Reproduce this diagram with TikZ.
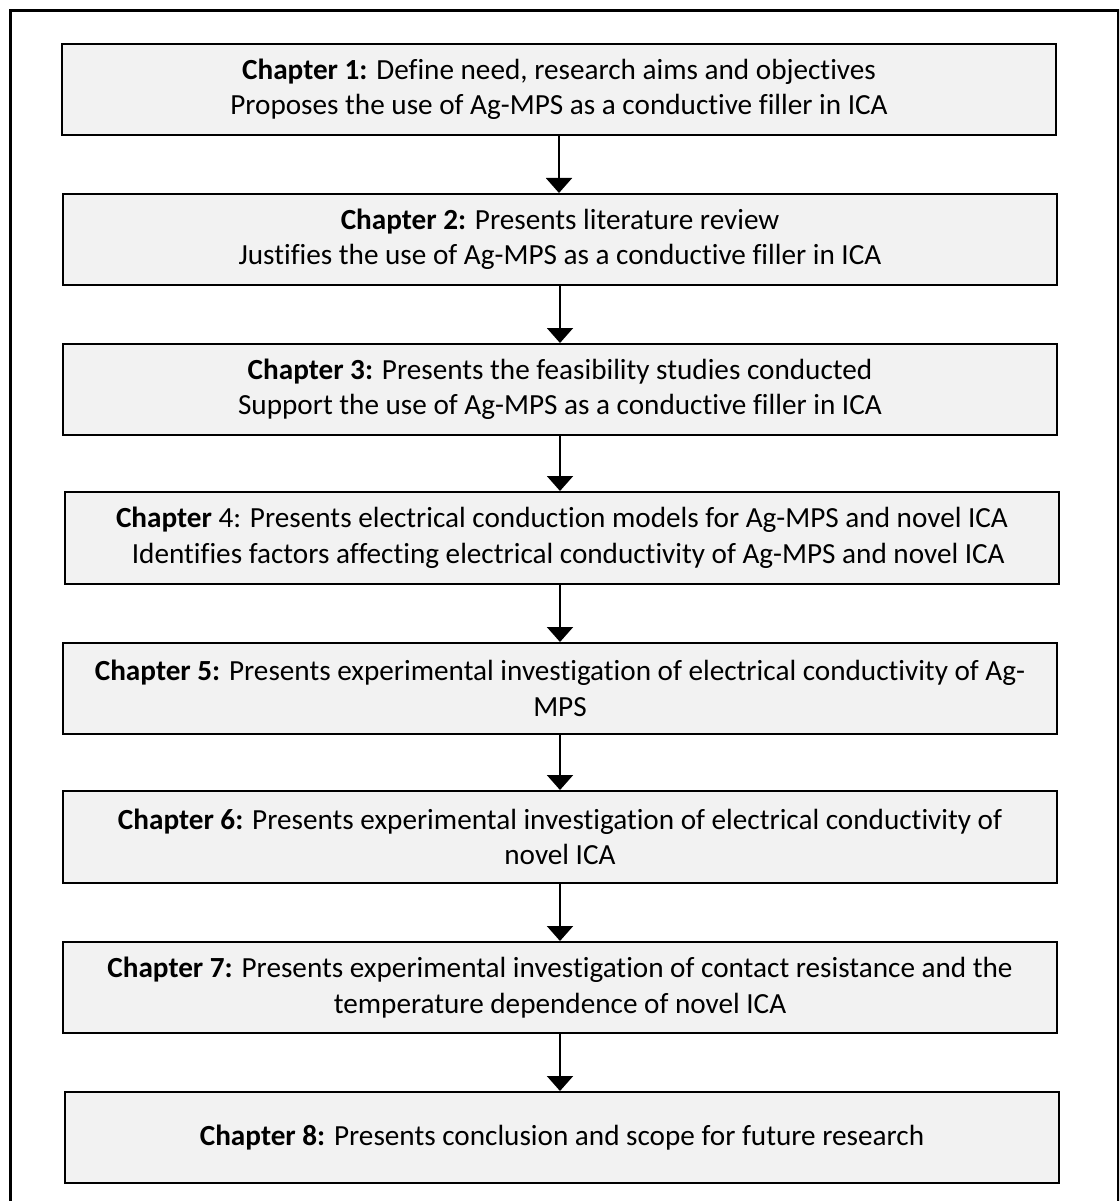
\documentclass[tikz,border=0pt]{standalone}
\usepackage{fontspec}
\setmainfont{Carlito}[Ligatures=NoCommon]
\usetikzlibrary{arrows.meta}
\definecolor{boxfill}{HTML}{F2F2F2}
\tikzset{
  chapbox/.style={draw=black, line width=2pt, fill=boxfill, minimum width=994pt, minimum height=91pt,
    inner sep=0pt, align=center, font=\fontsize{29.2}{35.5}\selectfont},
  flowarrow/.style={line width=2pt, -{Triangle[width=26pt,length=15pt]}}
}
\begin{document}
\begin{tikzpicture}[x=1pt,y=-1pt]
\clip (0,0) rectangle (1119,1201);
\fill[white] (0,0) rectangle (1119,1201);
\draw[line width=3pt] (10,11) rectangle (1118,1215);
\node[chapbox] (b1) at (559,89.5) {\textbf{Chapter 1:} Define need, research aims and objectives\\Proposes the use of Ag-MPS as a conductive filler in ICA};
\node[chapbox] (b2) at (560,239.5) {\textbf{Chapter 2:} Presents literature review\\Justifies the use of Ag-MPS as a conductive filler in ICA};
\node[chapbox] (b3) at (560,389.5) {\textbf{Chapter 3:} Presents the feasibility studies conducted\\Support the use of Ag-MPS as a conductive filler in ICA};
\node[chapbox, minimum height=92pt] (b4) at (562,538) {\textbf{Chapter} 4: Presents electrical conduction models for Ag-MPS and novel ICA\\\hphantom{x}Identifies factors affecting electrical conductivity of Ag-MPS and novel ICA};
\node[chapbox] (b5) at (560,688.5) {\textbf{Chapter 5:} Presents experimental investigation of electrical conductivity of Ag-\\MPS};
\node[chapbox, minimum height=92pt] (b6) at (560,837) {\textbf{Chapter 6:} Presents experimental investigation of electrical conductivity of\\novel ICA};
\node[chapbox] (b7) at (560,987.5) {\textbf{Chapter 7:} Presents experimental investigation of contact resistance and the\\temperature dependence of novel ICA};
\node[chapbox] (b8) at (562,1137.5) {\textbf{Chapter 8:} Presents conclusion and scope for future research};
\draw[flowarrow] (b1.south) -- (b1.south |- b2.north);
\draw[flowarrow] (b2.south) -- (b2.south |- b3.north);
\draw[flowarrow] (b3.south) -- (b3.south |- b4.north);
\draw[flowarrow] (b3.south |- b4.south) -- (b3.south |- b5.north);
\draw[flowarrow] (b5.south) -- (b5.south |- b6.north);
\draw[flowarrow] (b6.south) -- (b6.south |- b7.north);
\draw[flowarrow] (b7.south) -- (b7.south |- b8.north);
\end{tikzpicture}
\end{document}
